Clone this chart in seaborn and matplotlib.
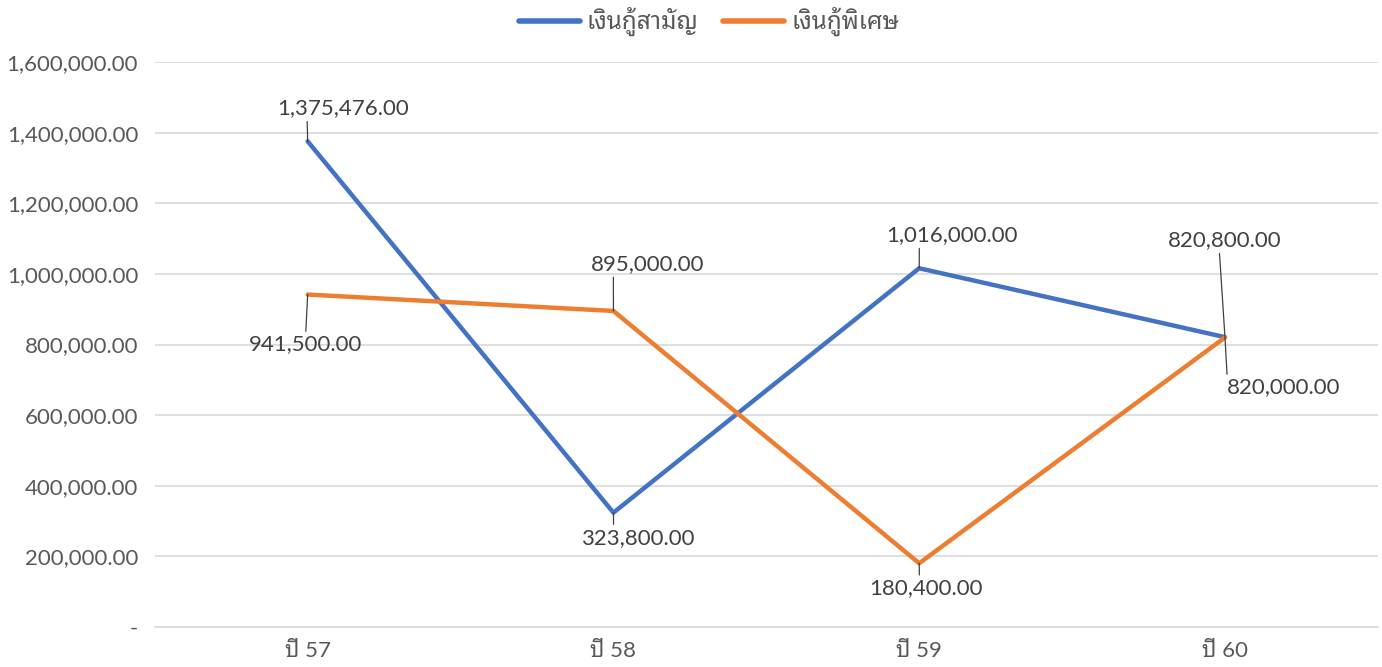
import matplotlib
matplotlib.use("Agg")
import matplotlib.pyplot as plt
import seaborn as sns
import pandas as pd
from matplotlib.ticker import FuncFormatter

categories = ["ปี 57", "ปี 58", "ปี 59", "ปี 60"]
series_names = ["เงินกู้สามัญ", "เงินกู้พิเศษ"]
ordinary = [1375476.00, 323800.00, 1016000.00, 820800.00]
special = [941500.00, 895000.00, 180400.00, 820000.00]
colors = ["#4472C4", "#ED7D31"]

sns.set_theme(style="white")
plt.rcParams['font.family'] = ['Lato', 'Noto Sans Thai Looped', 'DejaVu Sans']

df = pd.DataFrame({
    "x": list(range(len(categories))) * 2,
    "value": ordinary + special,
    "series": [series_names[0]] * 4 + [series_names[1]] * 4,
})

FS = 16
fig = plt.figure(figsize=(13.82, 6.67), dpi=100)
ax = fig.add_axes([0.112, 0.06, 0.885, 0.847])
sns.lineplot(data=df, x="x", y="value", hue="series", palette=colors,
             linewidth=3.2, ax=ax, legend=True, sort=False)

ax.set_xlim(-0.5, 3.5)
ax.set_ylim(0, 1600000)
ax.set_yticks(range(0, 1600001, 200000))
ax.yaxis.set_major_formatter(FuncFormatter(lambda v, p: "-" if v == 0 else f"{v:,.2f}"))
ax.set_xticks(range(len(categories)))
ax.set_xticklabels(categories)
ax.set_xlabel("")
ax.set_ylabel("")
ax.grid(axis="y", color="#D9D9D9", linewidth=1.2)
for s in ["left", "right", "top"]:
    ax.spines[s].set_visible(False)
ax.spines["bottom"].set_color("#D9D9D9")
ax.spines["bottom"].set_linewidth(1.2)
ax.tick_params(axis="y", colors="#595959", labelsize=FS, length=0, pad=12)
ax.tick_params(axis="x", colors="#595959", labelsize=FS, length=0, pad=10)

# data labels: (dx, dy) offsets in pixels and leader attachment (relpos)
offsets_ord = [(35, 33, (0.23, 0)), (24, -25, (0.29, 1)), (33, 33, (0.25, 0)), (0, 97, (0.45, 0))]
offsets_spc = [(-2, -50, (0.5, 1)), (34, 47, (0.2, 0)), (7, -25, (0.44, 1)), (59, -50, (0.0, 1))]
def lab(x, y, off):
    dx, dy, rp = off
    ax.annotate(f"{y:,.2f}", xy=(x, y), xytext=(dx, dy), textcoords="offset pixels",
                ha="center", va="center", fontsize=FS, color="#404040",
                arrowprops=dict(arrowstyle="-", color="#404040", lw=0.9,
                                shrinkA=0, shrinkB=0, relpos=rp))
for i, v in enumerate(ordinary):
    lab(i, v, offsets_ord[i])
for i, v in enumerate(special):
    lab(i, v, offsets_spc[i])

leg = ax.legend(loc="upper center", bbox_to_anchor=(0.453, 1.136), ncol=2, frameon=False,
                fontsize=17.5, handlelength=2.5, columnspacing=1.0, handletextpad=0.3)
for t in leg.get_texts():
    t.set_color("#595959")
for l in leg.get_lines():
    l.set_linewidth(4)

fig.savefig("out.png", dpi=100)
